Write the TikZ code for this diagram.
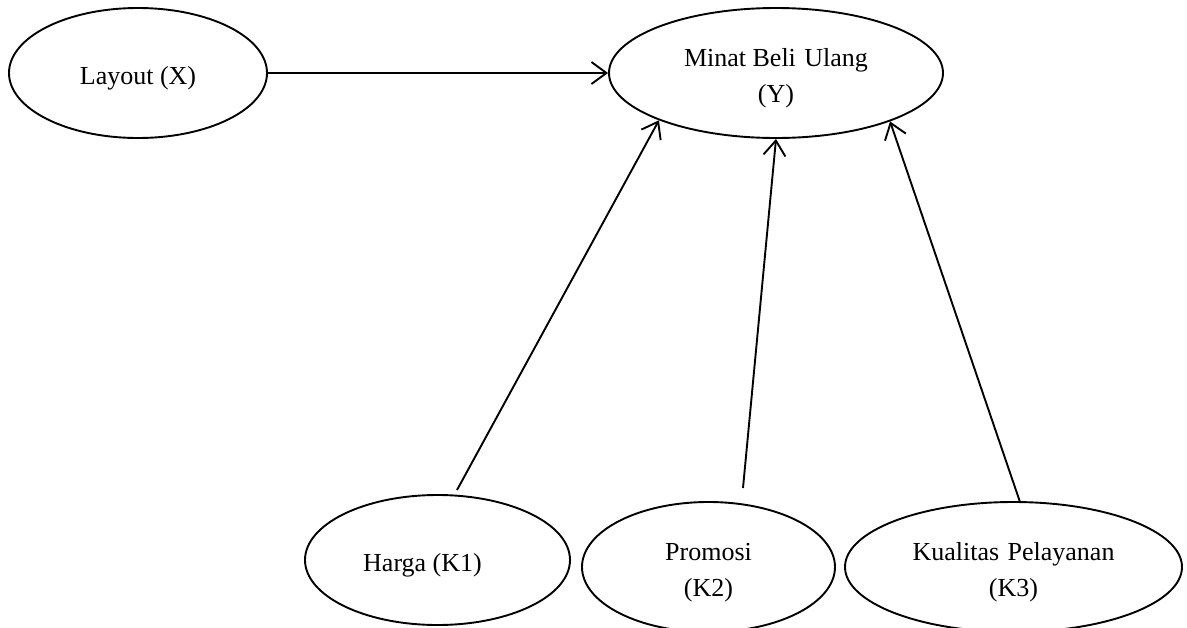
\documentclass[tikz,border=0pt]{standalone}
\usepackage{fontspec}
\setmainfont{Liberation Serif}
\usetikzlibrary{shapes.geometric,arrows.meta}
\newcommand{\vtxt}[1]{\raisebox{-4pt}[\height][\depth]{\begin{tabular}{@{}c@{}}#1\end{tabular}}}
\begin{document}
\begin{tikzpicture}[x=1pt,y=-1pt,
  var/.style={draw=black, line width=1.9pt, ellipse, inner sep=0pt, align=center,
    font=\fontsize{26}{36}\selectfont},
  conn/.style={line width=1.9pt, -{Straight Barb[length=15pt,width=22pt,line width=1.9pt]}}]
\useasboundingbox (0,0) rectangle (1187,627);
\clip (0,0) rectangle (1187,627);
\node[var, minimum width=258pt, minimum height=130pt] (X) at (138,73) {\vtxt{Layout (X)}};
\node[var, minimum width=334pt, minimum height=130pt] (Y) at (776,73) {\vtxt{Minat Beli\hspace{2pt} Ulang\\(Y)}};
\node[var, minimum width=265pt, minimum height=130pt] (K1) at (437.5,560) {\vtxt{Harga (K1)\hspace*{30pt}}};
\node[var, minimum width=253pt, minimum height=130pt] (K2) at (708.5,567) {\vtxt{Promosi\\(K2)}};
\node[var, minimum width=337pt, minimum height=130pt] (K3) at (1013.5,567) {\vtxt{Kualitas\hspace{2pt} Pelayanan\\(K3)}};
\coordinate (s1) at (457,490);
\coordinate (s2) at (743,488);
\coordinate (s3) at (1020,502);
\draw[conn] (X.east) -- (Y.west);
\draw[conn] (s1) -- (Y.202.5);
\draw[conn] (s2) -- (Y.270);
\draw[conn] (s3) -- (Y.337.7);
\end{tikzpicture}
\end{document}
